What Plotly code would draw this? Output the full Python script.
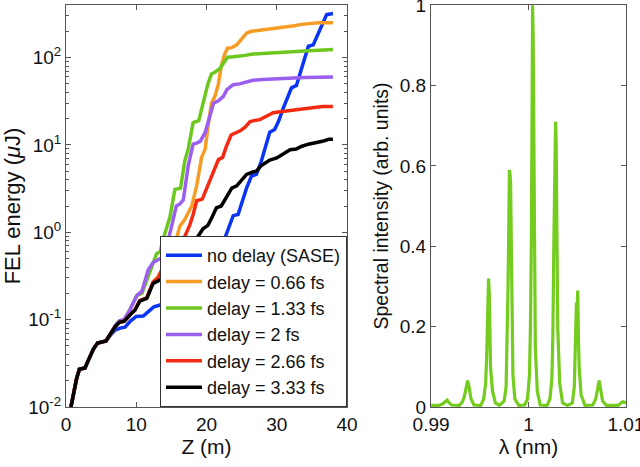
import plotly.graph_objects as go

# FEL energy (uJ) vs Z (m)
z_sase = [0.7, 1.1, 1.5, 1.9, 2.7, 3.3, 3.9, 4.5, 4.9, 5.7, 6.3, 7.0, 7.7, 8.4, 9.2, 10.0, 11.0,
          11.8, 12.5, 13.4, 14.1, 15.0, 16.0, 17.0, 18.0, 19.0, 20.0, 20.6, 21.4, 22.0, 22.6,
          23.3, 23.8, 24.5, 25.1, 25.7, 26.4, 27.1, 27.8, 28.4, 29.0, 29.7, 30.3, 30.9, 31.4,
          32.1, 32.8, 33.4, 34.0, 34.5, 35.2, 35.8, 36.5, 37.1, 38.0]
e_sase = [0.010, 0.015, 0.021, 0.027, 0.028, 0.036, 0.046, 0.054, 0.055, 0.057, 0.066, 0.076,
          0.080, 0.082, 0.097, 0.109, 0.110, 0.125, 0.140, 0.147, 0.160, 0.18, 0.21, 0.26,
          0.31, 0.37, 0.45, 0.50, 0.62, 0.64, 0.85, 1.2, 1.55, 1.6, 2.3, 3.2, 4.4, 4.6, 6.5,
          9.5, 14, 15, 19, 26, 33, 45, 48, 68, 100, 135, 140, 180, 250, 310, 320]

z_066 = [0.7, 1.1, 1.5, 1.9, 2.7, 3.3, 3.9, 4.5, 4.9, 5.7, 6.3, 7.0, 7.6, 8.3, 9.2, 9.8, 10.5,
         11.5, 12.4, 13.1, 13.8, 14.6, 15.3, 16.2, 16.9, 17.9, 18.6, 19.3, 19.8, 20.2, 20.7,
         21.2, 21.7, 22.1, 22.6, 23.0, 23.6, 24.3, 25.0, 25.7, 26.4, 27.5, 28.5, 30.0, 31.5,
         32.5, 33.5, 34.5, 36.0, 38.0]
e_066 = [0.010, 0.015, 0.021, 0.027, 0.028, 0.036, 0.046, 0.054, 0.055, 0.057, 0.068, 0.083,
         0.093, 0.096, 0.116, 0.128, 0.165, 0.178, 0.27, 0.31, 0.38, 0.49, 0.63, 1.17, 1.4,
         2.0, 3.4, 7.2, 8.9, 16, 30, 36, 50, 80, 110, 128, 130, 140, 165, 190, 200, 205, 210,
         215, 225, 232, 240, 245, 250, 250]

z_133 = [0.7, 1.1, 1.5, 1.9, 2.7, 3.3, 3.9, 4.5, 4.9, 5.7, 6.3, 7.0, 7.6, 8.3, 9.1, 10.1, 10.8,
         11.7, 12.4, 12.9, 13.4, 13.8, 14.8, 15.5, 16.3, 16.9, 17.4, 18.1, 18.9, 19.5, 20.2,
         20.7, 21.2, 21.9, 22.6, 23.0, 23.8, 24.7, 25.5, 26.6, 28.0, 30.0, 31.9, 34.0, 36.0,
         38.0]
e_133 = [0.010, 0.015, 0.021, 0.027, 0.028, 0.036, 0.046, 0.054, 0.055, 0.057, 0.068, 0.085,
         0.097, 0.100, 0.130, 0.19, 0.20, 0.32, 0.47, 0.57, 0.60, 0.82, 1.5, 3.1, 3.2, 6.5,
         9.0, 18, 19, 30, 50, 65, 68, 75, 92, 101, 102, 103, 106, 110, 112, 115, 117, 119,
         121, 124]

z_200 = [0.7, 1.1, 1.5, 1.9, 2.7, 3.3, 3.9, 4.5, 4.9, 5.7, 6.3, 7.0, 7.6, 8.3, 9.1, 10.1, 10.8,
         11.7, 12.4, 13.1, 13.8, 14.8, 15.7, 16.2, 16.7, 17.4, 18.1, 18.6, 19.1, 19.8, 20.5,
         21.0, 21.7, 22.4, 22.9, 23.8, 24.7, 25.5, 26.6, 28.0, 29.5, 31.5, 34.0, 36.0, 38.0]
e_200 = [0.010, 0.015, 0.021, 0.027, 0.028, 0.036, 0.046, 0.054, 0.055, 0.057, 0.068, 0.085,
         0.097, 0.100, 0.130, 0.19, 0.21, 0.37, 0.45, 0.49, 0.52, 0.98, 2.0, 2.1, 2.35, 5.8,
         10.2, 10.5, 11, 13.8, 22, 30, 32, 36, 43, 49, 50, 52, 55, 56, 57, 58, 59, 59.5, 60]

z_266 = [0.7, 1.1, 1.5, 1.9, 2.7, 3.3, 3.9, 4.5, 4.9, 5.7, 6.3, 7.0, 7.6, 8.3, 9.2, 9.8, 10.5,
         11.5, 12.4, 13.1, 13.8, 14.6, 15.3, 16.2, 16.7, 17.2, 17.6, 18.1, 18.6, 19.4, 19.8,
         20.5, 21.2, 21.7, 22.3, 22.8, 23.5, 24.3, 24.8, 25.5, 26.2, 26.8, 27.6, 28.1, 28.8,
         29.5, 30.5, 31.4, 32.5, 33.5, 34.5, 35.5, 36.5, 38.0]
e_266 = [0.010, 0.015, 0.021, 0.027, 0.028, 0.036, 0.046, 0.054, 0.055, 0.057, 0.068, 0.083,
         0.093, 0.096, 0.116, 0.128, 0.165, 0.178, 0.27, 0.30, 0.40, 0.57, 0.72, 0.80, 0.82,
         1.0, 1.2, 1.6, 2.3, 2.4, 2.9, 3.8, 5.5, 6.8, 7.2, 9.5, 13, 14, 14.5, 16, 18.5, 19,
         19.5, 20.5, 22, 23.4, 24, 24.5, 25.5, 26, 26.5, 27, 27.5, 27.5]

z_333 = [0.7, 1.1, 1.5, 1.9, 2.7, 3.3, 3.9, 4.5, 4.9, 5.7, 6.3, 7.0, 7.6, 8.3, 9.2, 9.8, 10.5,
         11.5, 12.4, 13.4, 14.3, 15.3, 16.2, 17.2, 18.1, 18.8, 19.5, 20.2, 20.8, 21.4, 22.1,
         22.8, 23.6, 24.3, 25.0, 25.7, 26.6, 27.1, 27.8, 28.4, 29.0, 30.0, 30.9, 31.9, 32.8,
         33.5, 34.5, 35.5, 36.5, 37.4, 38.0]
e_333 = [0.010, 0.015, 0.021, 0.027, 0.028, 0.036, 0.046, 0.054, 0.055, 0.057, 0.068, 0.083,
         0.093, 0.096, 0.115, 0.128, 0.163, 0.175, 0.26, 0.285, 0.30, 0.33, 0.48, 0.58, 0.80,
         0.90, 1.1, 1.2, 1.5, 1.9, 2.0, 2.5, 3.2, 3.4, 4.0, 4.6, 4.9, 5.0, 5.8, 6.3, 6.7, 7.1,
         7.9, 8.8, 9.0, 9.6, 10.2, 10.5, 11.0, 11.6, 11.6]

series_names = ["no delay (SASE)", "delay = 0.66 fs", "delay = 1.33 fs",
                "delay = 2 fs", "delay = 2.66 fs", "delay = 3.33 fs"]
series_colors = ["#0a35f5", "#f59c25", "#6cc81e", "#9a5ef0", "#f52a12", "#000000"]

# spectrum
lam = [0.9900, 0.9908, 0.9912, 0.9915, 0.99165, 0.9918, 0.9921,
       0.9929, 0.9932, 0.9934, 0.9936, 0.99375, 0.9939, 0.9941, 0.9944,
       0.9951, 0.9954, 0.9956, 0.9957, 0.9958, 0.99590, 0.99598, 0.99604, 0.9961, 0.9963,
       0.9966, 0.9970, 0.9975, 0.9977, 0.9978, 0.99790, 0.99798, 0.99804, 0.99810, 0.99816,
       0.99822, 0.99828, 0.9984, 0.9986, 0.9990, 0.9996, 0.9999, 1.0001, 1.0002, 1.0003,
       1.00036, 1.00042, 1.00048, 1.00054, 1.0006, 1.0007, 1.0009, 1.0012, 1.0019, 1.0022,
       1.0024, 1.0025, 1.0026, 1.00270, 1.00278, 1.00284, 1.0029, 1.0030, 1.0032, 1.0035,
       1.0040, 1.0045, 1.0047, 1.0048, 1.00492, 1.00500, 1.00506, 1.00512, 1.0052, 1.0054,
       1.0058, 1.0066, 1.0069, 1.0071, 1.00725, 1.0074, 1.0076, 1.0080, 1.0092, 1.0095,
       1.0097, 1.0100]
inten = [0.004, 0.004, 0.008, 0.014, 0.017, 0.012, 0.005,
         0.004, 0.012, 0.025, 0.050, 0.066, 0.050, 0.020, 0.005,
         0.004, 0.020, 0.060, 0.120, 0.200, 0.320, 0.280, 0.170, 0.100, 0.040,
         0.010, 0.004, 0.015, 0.050, 0.150, 0.300, 0.460, 0.590, 0.580, 0.560,
         0.400, 0.220, 0.080, 0.020, 0.004, 0.005, 0.020, 0.080, 0.200, 0.430,
         0.830, 1.000, 0.920, 0.600, 0.350, 0.150, 0.040, 0.005, 0.004, 0.020,
         0.070, 0.180, 0.400, 0.640, 0.710, 0.660, 0.400, 0.200, 0.060, 0.010,
         0.004, 0.010, 0.050, 0.120, 0.260, 0.250, 0.290, 0.180, 0.100, 0.030,
         0.004, 0.005, 0.020, 0.045, 0.066, 0.045, 0.015, 0.004, 0.004, 0.010,
         0.013, 0.010]

FONT = "Liberation Sans, Arial, sans-serif"
AX = "#555555"
W, H = 640, 467


def fx(px):
    return px / W


def fy(py):
    return 1 - py / H


fig = go.Figure()
zs = [z_sase, z_066, z_133, z_200, z_266, z_333]
es = [e_sase, e_066, e_133, e_200, e_266, e_333]
for z, e, name, col in zip(zs, es, series_names, series_colors):
    fig.add_trace(go.Scatter(x=z, y=e, mode="lines", name=name,
                             line=dict(color=col, width=3.5), xaxis="x", yaxis="y"))

fig.add_trace(go.Scatter(x=lam, y=inten, mode="lines", showlegend=False,
                         line=dict(color="#74cc1e", width=3.2), xaxis="x2", yaxis="y2"))

axis_common = dict(showline=True, linecolor=AX, linewidth=1, mirror="ticks",
                   ticks="inside", ticklen=5, tickcolor=AX, showgrid=False,
                   zeroline=False, automargin=False, ticklabeloverflow="allow",
                   tickfont=dict(size=19, color="#111"))

ylog_ticks = [0.01, 0.1, 1, 10, 100]
ylog_text = ["10<sup>-2</sup>", "10<sup>-1</sup>", "10<sup>0</sup>",
             "10<sup>1</sup>", "10<sup>2</sup>"]
ylog_minor = [m * 10.0 ** k for k in range(-2, 3) for m in range(2, 10)]
# overlay axes that only carry the minor ticks of the log axis, left and right
minor_axis = dict(domain=[fy(407), fy(5)], type="log", range=[-2, 2.602], overlaying="y",
                  anchor="x", tickvals=ylog_minor, showticklabels=False, ticks="inside",
                  ticklen=3, tickcolor=AX, showgrid=False, showline=False, zeroline=False)

fig.update_layout(
    width=W, height=H,
    margin=dict(l=0, r=0, t=0, b=0),
    paper_bgcolor="white", plot_bgcolor="white",
    font=dict(family=FONT, size=19, color="#111"),
    xaxis=dict(domain=[fx(66), fx(347)], range=[0, 40], tickvals=[0, 10, 20, 30, 40],
               title=dict(text="Z (m)", standoff=3, font=dict(size=21)), anchor="y",
               **axis_common),
    yaxis=dict(domain=[fy(407), fy(5)], type="log", range=[-2, 2.602],
               tickvals=ylog_ticks, ticktext=ylog_text,
               title=dict(text="FEL energy (<i>μ</i>J)", standoff=3, font=dict(size=22)),
               anchor="x", **axis_common),
    yaxis3=dict(side="left", **minor_axis),
    yaxis4=dict(side="right", **minor_axis),
    xaxis2=dict(domain=[fx(431), fx(626)], range=[0.98999, 1.01001], tickvals=[0.99, 1, 1.01],
                title=dict(text="λ (nm)", standoff=3, font=dict(size=21)), anchor="y2",
                **axis_common),
    yaxis2=dict(domain=[fy(407), fy(5)], range=[0, 1.0005],
                tickvals=[0, 0.2, 0.4, 0.6, 0.8, 1],
                title=dict(text="Spectral intensity (arb. units)", standoff=5,
                           font=dict(size=19.5)),
                anchor="x2", **axis_common),
    legend=dict(x=fx(347), xanchor="right", y=fy(407), yanchor="bottom",
                bgcolor="white", bordercolor="#333", borderwidth=1,
                font=dict(size=18, color="#111"), tracegroupgap=0, itemwidth=36),
)
# invisible traces so the minor-tick overlay axes get drawn
for ya in ["y3", "y4"]:
    fig.add_trace(go.Scatter(x=[z_sase[0]], y=[e_sase[0]], xaxis="x", yaxis=ya,
                             mode="lines", showlegend=False, hoverinfo="skip",
                             line=dict(width=0)))

# drop the page's default body margin so the figure sits at the window's corner
fig.write_html("out.html", config={"displayModeBar": False},
               post_script="document.body.style.margin='0px';")
